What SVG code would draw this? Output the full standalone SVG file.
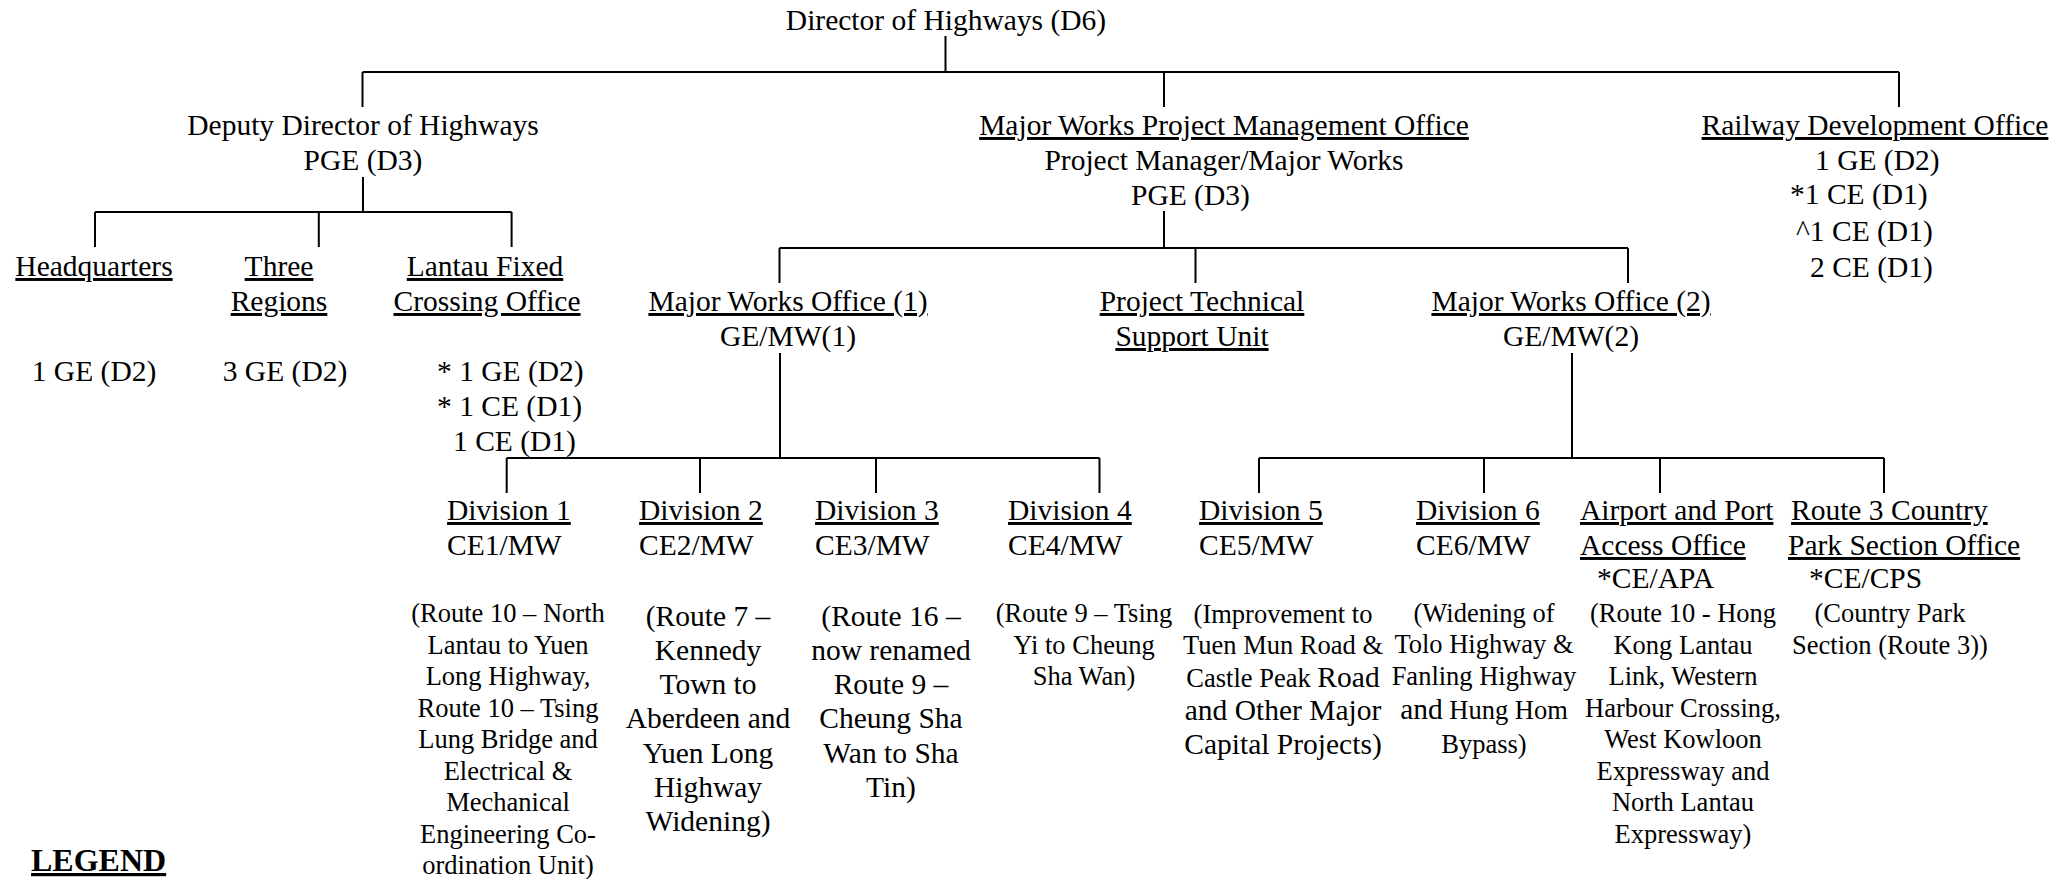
<svg xmlns="http://www.w3.org/2000/svg" width="2069" height="879" viewBox="0 0 2069 879">
<style>
text{font-family:"Liberation Serif","Times New Roman",serif;fill:#000;font-size:29.5px}
.m{text-anchor:middle}
.u{text-decoration:underline}
.s{font-size:26.5px}
.b{font-size:29.5px}
.lg{font-weight:bold;font-size:32px;text-decoration:underline}
#connectors path{stroke:#000;stroke-width:2;fill:none}
</style>
<rect width="2069" height="879" fill="#fff"/>
<g id="connectors">
<path d="M945.5 36V72M362.5 72H1899M362.5 72V107M1164 72V107M1899 72V107"/>
<path d="M363 177V212M95 212H511.6M95 212V247M318.8 212V247M511.6 212V247"/>
<path d="M1164 211V248M779.5 248H1628M779.5 248V283M1195.5 248V283M1628 248V283"/>
<path d="M780 353V458M506.7 458H1099.5M506.7 458V493M700 458V493M876 458V493M1099.5 458V493"/>
<path d="M1572 353V458M1259 458H1884M1259 458V493M1484 458V493M1660 458V493M1884 458V493"/>
</g>
<g id="director"><text class="m" x="946" y="30">Director of Highways (D6)</text></g>
<g id="deputy"><text class="m" x="363" y="135">Deputy Director of Highways</text><text class="m" x="363" y="170">PGE (D3)</text></g>
<g id="headquarters"><text class="m u" x="94" y="276">Headquarters</text><text class="m" x="94" y="381">1 GE (D2)</text></g>
<g id="regions"><text class="m u" x="279" y="276">Three</text><text class="m u" x="279" y="311">Regions</text><text class="m" x="285" y="381">3 GE (D2)</text></g>
<g id="lantau"><text class="m u" x="485" y="276">Lantau Fixed</text><text class="m u" x="487" y="311">Crossing Office</text>
<text x="437" y="381">* 1 GE (D2)</text><text x="437" y="416">* 1 CE (D1)</text><text x="453" y="451">1 CE (D1)</text></g>
<g id="mwpmo"><text class="m u" x="1224" y="135">Major Works Project Management Office</text><text class="m" x="1224" y="170">Project Manager/Major Works</text><text x="1131" y="205">PGE (D3)</text></g>
<g id="railway"><text class="m u" x="1875" y="135">Railway Development Office</text><text x="1815" y="170">1 GE (D2)</text><text x="1790" y="204">*1 CE (D1)</text><text x="1796" y="241">^1 CE (D1)</text><text x="1810" y="277">2 CE (D1)</text></g>
<g id="mwo1"><text class="m u" x="788" y="311">Major Works Office (1)</text><text class="m" x="788" y="346">GE/MW(1)</text></g>
<g id="ptsu"><text class="m u" x="1202" y="311">Project Technical</text><text class="m u" x="1192" y="346">Support Unit</text></g>
<g id="mwo2"><text class="m u" x="1571" y="311">Major Works Office (2)</text><text class="m" x="1571" y="346">GE/MW(2)</text></g>
<g id="div1"><text class="u" x="447" y="520">Division 1</text><text x="447" y="555">CE1/MW</text>
<text class="m s" x="508" y="622">(Route 10 – North</text><text class="m s" x="508" y="653.5">Lantau to Yuen</text><text class="m s" x="508" y="685">Long Highway,</text><text class="m s" x="508" y="716.5">Route 10 – Tsing</text><text class="m s" x="508" y="748">Lung Bridge and</text><text class="m s" x="508" y="779.5">Electrical &amp;</text><text class="m s" x="508" y="811">Mechanical</text><text class="m s" x="508" y="842.5">Engineering Co-</text><text class="m s" x="508" y="874">ordination Unit)</text></g>
<g id="div2"><text class="u" x="639" y="520">Division 2</text><text x="639" y="555">CE2/MW</text>
<text class="m" x="708" y="626">(Route 7 –</text><text class="m" x="708" y="660">Kennedy</text><text class="m" x="708" y="694">Town to</text><text class="m" x="708" y="728">Aberdeen and</text><text class="m" x="708" y="763">Yuen Long</text><text class="m" x="708" y="797">Highway</text><text class="m" x="708" y="831">Widening)</text></g>
<g id="div3"><text class="u" x="815" y="520">Division 3</text><text x="815" y="555">CE3/MW</text>
<text class="m" x="891" y="626">(Route 16 –</text><text class="m" x="891" y="660">now renamed</text><text class="m" x="891" y="694">Route 9 –</text><text class="m" x="891" y="728">Cheung Sha</text><text class="m" x="891" y="763">Wan to Sha</text><text class="m" x="891" y="797">Tin)</text></g>
<g id="div4"><text class="u" x="1008" y="520">Division 4</text><text x="1008" y="555">CE4/MW</text>
<text class="m s" x="1084" y="622">(Route 9 – Tsing</text><text class="m s" x="1084" y="653.5">Yi to Cheung</text><text class="m s" x="1084" y="685">Sha Wan)</text></g>
<g id="div5"><text class="u" x="1199" y="520">Division 5</text><text x="1199" y="555">CE5/MW</text>
<text class="m s" x="1283" y="623">(Improvement to</text><text class="m s" x="1283" y="654">Tuen Mun Road &amp;</text><text class="m s" x="1283" y="687">Castle Peak <tspan class="b">Road</tspan></text><text class="m" x="1283" y="720">and Other Major</text><text class="m" x="1283" y="754">Capital Projects)</text></g>
<g id="div6"><text class="u" x="1416" y="520">Division 6</text><text x="1416" y="555">CE6/MW</text>
<text class="m s" x="1484" y="622">(Widening of</text><text class="m s" x="1484" y="653">Tolo Highway &amp;</text><text class="m s" x="1484" y="685">Fanling Highway</text><text class="m s" x="1484" y="719"><tspan class="b">and</tspan> Hung Hom</text><text class="m s" x="1484" y="753">Bypass)</text></g>
<g id="apa"><text class="u" x="1580" y="520">Airport and Port</text><text class="u" x="1580" y="555">Access Office</text><text x="1597" y="588">*CE/APA</text>
<text class="m s" x="1683" y="622">(Route 10 - Hong</text><text class="m s" x="1683" y="653.5">Kong Lantau</text><text class="m s" x="1683" y="685">Link, Western</text><text class="m s" x="1683" y="716.5">Harbour Crossing,</text><text class="m s" x="1683" y="748">West Kowloon</text><text class="m s" x="1683" y="779.5">Expressway and</text><text class="m s" x="1683" y="811">North Lantau</text><text class="m s" x="1683" y="842.5">Expressway)</text></g>
<g id="cps"><text class="u" x="1791" y="520">Route 3 Country</text><text class="u" x="1788" y="555">Park Section Office</text><text x="1809" y="588">*CE/CPS</text>
<text class="m s" x="1890" y="622">(Country Park</text><text class="m s" x="1890" y="653.5">Section (Route 3))</text></g>
<g id="legend"><text class="lg" x="31" y="871">LEGEND</text></g>
</svg>
